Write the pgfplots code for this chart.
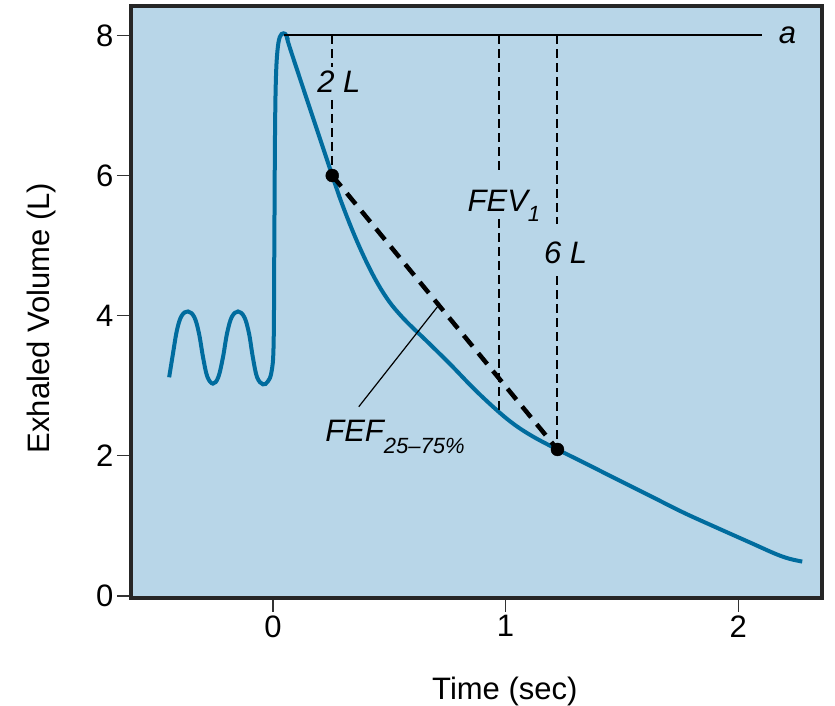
\documentclass[border=0pt]{standalone}
\usepackage{pgfplots}
\pgfplotsset{compat=1.18}
\usepackage{fontspec}
\setmainfont{Liberation Sans}
\usetikzlibrary{calc}
\definecolor{bg}{RGB}{184,214,232}
\definecolor{flow}{RGB}{0,108,158}
\newcommand\lab{\fontsize{31}{36}\selectfont\itshape}

\begin{document}
\begin{tikzpicture}
\begin{axis}[
    name=ax,
    scale only axis,
    width=691pt, height=592pt,
    xmin=-0.61, xmax=2.36,
    ymin=-0.03, ymax=8.42,
    axis background/.style={fill=bg},
    axis line style={line width=3.5pt, black!85, line cap=rect},
    xtick={0,1,2}, ytick={0,2,4,6,8},
    tick align=outside, tick pos=left,
    major tick length=14pt,
    tick style={line width=1.3pt, black!80},
    font=\fontsize{31}{36}\selectfont,
    /pgf/number format/assume math mode=true,
    xlabel={Time (sec)},
    ylabel={Exhaled Volume (L)},
    xlabel style={at={(axis description cs:0.541,-0.172)}, anchor=base},
    ylabel style={at={(axis description cs:-0.130,0.473)}, anchor=center},
    clip=false,
]
% spirometry trace
\addplot[flow, line width=4pt, smooth, tension=0.6] coordinates {
    (-0.446,3.12) (-0.430,3.45) (-0.412,3.80) (-0.392,4.00) (-0.365,4.06)
    (-0.338,3.98) (-0.318,3.75) (-0.300,3.40) (-0.282,3.13) (-0.258,3.03)
    (-0.235,3.12) (-0.215,3.40) (-0.197,3.75) (-0.177,3.98) (-0.150,4.06)
    (-0.123,3.98) (-0.103,3.75) (-0.086,3.40) (-0.068,3.12) (-0.043,3.02)
    (-0.022,3.06) (-0.006,3.20) (0.003,3.60) (0.006,5.0) (0.009,6.6)
    (0.013,7.4) (0.020,7.8) (0.030,7.98) (0.045,8.03) (0.060,7.98)
    (0.080,7.75) (0.253,6.02) (0.300,5.57) (0.350,5.15) (0.400,4.78)
    (0.450,4.46) (0.500,4.20) (0.550,4.00) (0.600,3.83) (0.657,3.65)
    (0.764,3.30) (0.866,2.95) (0.966,2.64) (1.040,2.44) (1.120,2.27)
    (1.223,2.09) (1.350,1.88) (1.481,1.66) (1.620,1.43) (1.764,1.19)
    (1.910,0.97) (2.052,0.76) (2.160,0.60) (2.220,0.53) (2.275,0.49)
};
% peak volume line
\addplot[black, line width=2pt] coordinates {(0.047,8.0) (2.10,8.0)};
% dashed markers for 2 L, FEV1 and 6 L
\addplot[black, line width=2pt, dash pattern=on 9pt off 5pt] coordinates {(0.255,8) (0.255,7.55)};
\addplot[black, line width=2pt, dash pattern=on 9pt off 5pt] coordinates {(0.255,7.08) (0.255,6.0)};
\addplot[black, line width=2pt, dash pattern=on 9pt off 5pt] coordinates {(0.970,8) (0.970,6.07)};
\addplot[black, line width=2pt, dash pattern=on 9pt off 5pt] coordinates {(0.970,5.38) (0.970,2.62)};
\addplot[black, line width=2pt, dash pattern=on 9pt off 5pt] coordinates {(1.223,8) (1.223,5.31)};
\addplot[black, line width=2pt, dash pattern=on 9pt off 5pt] coordinates {(1.223,4.56) (1.223,2.09)};
% FEF 25-75 chord
\addplot[black, line width=4.5pt, dash pattern=on 14pt off 9pt] coordinates {(0.255,6.0) (1.223,2.09)};
\addplot[black, line width=1.2pt] coordinates {(0.708,4.13) (0.369,2.70)};
\addplot[only marks, mark=*, mark size=6.5pt, black] coordinates {(0.255,6.0) (1.223,2.09)};
% labels
\node[anchor=base west, font=\lab] at (axis cs:0.176,7.18) {2 L};
\node[anchor=base west, font=\lab] at (axis cs:0.822,5.49) {FEV\raisebox{-0.32em}{\fontsize{22}{26}\selectfont 1}};
\node[anchor=base west, font=\lab] at (axis cs:1.150,4.74) {6 L};
\node[anchor=base west, font=\lab] at (axis cs:2.159,7.88) {a};
\node[anchor=base west, font=\lab] at (axis cs:0.210,2.20) {FEF\raisebox{-0.38em}{\fontsize{22}{26}\selectfont 25–75\%}};
\end{axis}
\pgfresetboundingbox
\path ($(ax.south west)+(-131pt,-108pt)$) rectangle ($(ax.north east)+(13pt,6pt)$);
\end{tikzpicture}
\end{document}
